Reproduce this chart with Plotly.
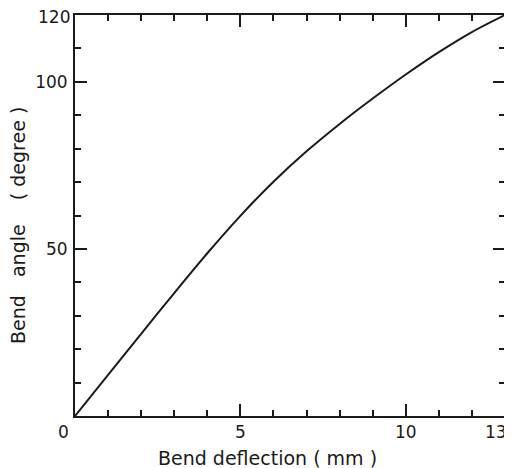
import plotly.graph_objects as go

deflection_mm = [0, 1, 2, 3, 4, 5, 6, 7, 8, 9, 10, 11, 12, 13]
bend_angle_deg = [0, 12.3, 24.6, 36.8, 48.7, 59.9, 70.1, 79.2, 87.4, 95.0, 102.2, 108.9, 114.9, 120]

x_minor_ticks = list(range(0, 14))
y_minor_ticks = list(range(0, 121, 10))
x_tick_vals = [0, 5, 10, 13]
x_tick_text = ["0", "5", "10", "13"]
y_tick_vals = [0, 50, 100, 120]
y_tick_text = ["0", "50", "100", "120"]

FONT = "DejaVu Sans"
INK = "#1a1a1a"
NB = "\u00a0"

# page body has an 8px margin: size the figure so it fills the rest of the window
W, H = 504, 460
L, T, R, B = 67, 7, 7, 52
pw, ph = W - L - R, H - T - B

fig = go.Figure()
fig.add_trace(go.Scatter(
    x=deflection_mm, y=bend_angle_deg, mode="lines",
    line=dict(color=INK, width=2, shape="spline", smoothing=0.8),
    showlegend=False, hoverinfo="skip", cliponaxis=False,
))

line_common = dict(showgrid=False, zeroline=False, showline=True, linecolor=INK, linewidth=2,
                   mirror="ticks", ticks="inside", tickwidth=1.5, tickcolor=INK, automargin=False)
tickfont = dict(family=FONT, size=17, color=INK)
titlefont = dict(family=FONT, size=19, color=INK)

# interior labels go on the axes; the end labels (at the frame corners) are placed by hand
x_axis_text = [t if v not in (x_tick_vals[0], x_tick_vals[-1]) else "" for v, t in zip(x_tick_vals, x_tick_text)]
y_axis_text = [t if v not in (y_tick_vals[0], y_tick_vals[-1]) else "" for v, t in zip(y_tick_vals, y_tick_text)]

fig.update_layout(
    width=W, height=H,
    margin=dict(l=L, r=R, t=T, b=B, pad=0, autoexpand=False),
    paper_bgcolor="white", plot_bgcolor="white",
    xaxis=dict(range=[0, 13], tickmode="array", tickvals=x_minor_ticks, showticklabels=False,
               ticklen=6, **line_common),
    yaxis=dict(range=[0, 120], tickmode="array", tickvals=y_minor_ticks, showticklabels=False,
               ticklen=6, **line_common),
    xaxis2=dict(range=[0, 13], overlaying="x", side="bottom", tickmode="array",
                tickvals=x_tick_vals, ticktext=x_axis_text, ticklen=12, tickfont=tickfont,
                ticklabelstandoff=0, **line_common),
    yaxis2=dict(range=[0, 120], overlaying="y", side="left", tickmode="array",
                tickvals=y_tick_vals, ticktext=y_axis_text, ticklen=12, tickfont=tickfont,
                ticklabelstandoff=2, **line_common),
    annotations=[
        # shared origin label
        dict(text=x_tick_text[0], xref="x", yref="y", x=x_tick_vals[0], y=y_tick_vals[0],
             xanchor="center", yanchor="top", xshift=-12, yshift=-4, showarrow=False, font=tickfont),
        # last x label, kept inside the page
        dict(text=x_tick_text[-1], xref="x", yref="y", x=x_tick_vals[-1], y=y_tick_vals[0],
             xanchor="right", yanchor="top", xshift=4, yshift=-4, showarrow=False, font=tickfont),
        # top y label
        dict(text=y_tick_text[-1], xref="x", yref="y", x=x_tick_vals[0], y=y_tick_vals[-1],
             xanchor="right", yanchor="middle", xshift=-3, yshift=-2, showarrow=False, font=tickfont),
        dict(text=f"Bend{NB}deflection{NB}({NB}mm{NB})", xref="paper", yref="paper",
             x=(267 - 75) / pw, y=0, xanchor="center", yanchor="top", yshift=-29,
             showarrow=False, font=titlefont),
        dict(text=f"Bend{NB}{NB}{NB}angle{NB}{NB}{NB}{NB}({NB}degree{NB})", xref="paper", yref="paper",
             x=0, y=(416 - 226) / ph, xanchor="center", yanchor="middle", xshift=-57,
             textangle=-90, showarrow=False, font=titlefont),
    ],
)
fig.add_trace(go.Scatter(x=[0], y=[0], xaxis="x2", yaxis="y2", mode="markers",
                         marker=dict(opacity=0), showlegend=False, hoverinfo="skip"))

fig.write_html("out.html")
